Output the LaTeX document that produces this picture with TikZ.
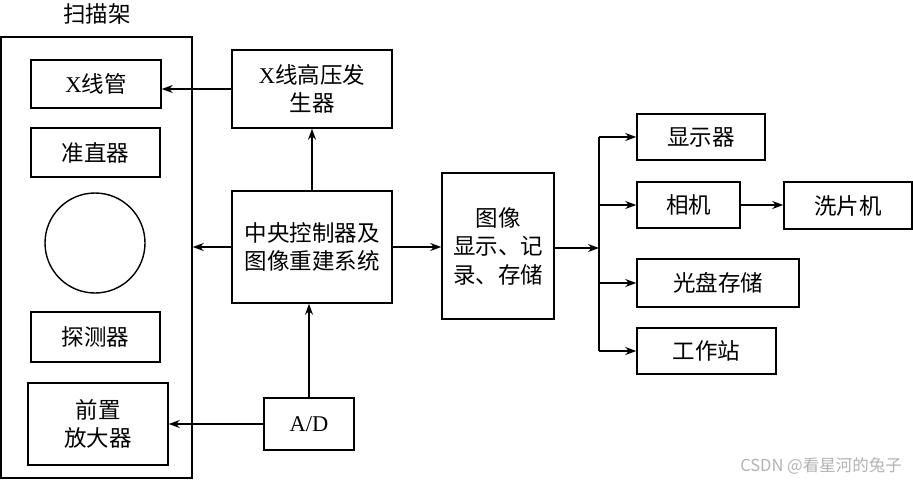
\documentclass[tikz,border=0pt]{standalone}
\usepackage{fontspec}
\setmainfont{Liberation Serif}
\newfontfamily\cjk{Noto Sans CJK SC}
\newfontfamily\wmfont{Noto Sans CJK SC}
\usetikzlibrary{arrows.meta,calc}
\newcommand\zh[1]{{\cjk #1}}
\begin{document}
\begin{tikzpicture}[x=1pt,y=-1pt,
  every node/.style={font=\fontsize{22.5}{28.5}\selectfont},
  blk/.style={draw, line width=1.5pt, inner sep=0pt, align=center},
  conn/.style={line width=1.4pt, -{Stealth[length=11pt,width=8pt]}},
  busline/.style={line width=1.4pt}]
\useasboundingbox (0,0) rectangle (913,480);

% scanner gantry and its parts
\node[blk, minimum width=191pt, minimum height=441pt] (frame) at (96.5,257.5) {};
\node (title) at (97,14) {\zh{扫描架}};
\node[blk, minimum width=130pt, minimum height=48pt] (xtube) at (96,84) {X\zh{线管}};
\node[blk, minimum width=129pt, minimum height=49pt] (colli) at (95.5,152.5) {\zh{准直器}};
\node[draw, line width=1.4pt, circle, inner sep=0pt, minimum size=100pt] (ring) at (95,243) {};
\node[blk, minimum width=129pt, minimum height=50pt] (det) at (95.5,337) {\zh{探测器}};
\node[blk, minimum width=140pt, minimum height=82pt] (preamp) at (98,424) {\zh{前置}\\\zh{放大器}};

% control and reconstruction
\node[blk, minimum width=90pt, minimum height=52pt] (ad) at (309,424) {A/D};
\node[blk, minimum width=160pt, minimum height=112pt] (cpu) at (312,247) {\zh{中央控制器及}\\\zh{图像重建系统}};
\node[blk, minimum width=160pt, minimum height=78pt] (hv) at (312,89) {X\zh{线高压发}\\\zh{生器}};
\node[blk, minimum width=112pt, minimum height=146pt] (img) at (498,246) {\zh{图像}\\\zh{显示、记}\\\zh{录、存储}};

% output devices
\coordinate (bus) at (599,248);
\coordinate (bustop) at (599,137);
\coordinate (busbot) at (599,351);
\node[blk, minimum width=128pt, minimum height=46pt] (disp) at (701,137) {\zh{显示器}};
\node[blk, minimum width=103pt, minimum height=46pt] (cam) at (688.5,205) {\zh{相机}};
\node[blk, minimum width=128pt, minimum height=47pt] (dev) at (848,205.5) {\zh{洗片机}};
\node[blk, minimum width=162pt, minimum height=48pt] (cd) at (718,283) {\zh{光盘存储}};
\node[blk, minimum width=139pt, minimum height=46pt] (ws) at (706.5,351) {\zh{工作站}};

% connectors
\draw[conn] (hv.west) -- (hv.west -| xtube.east);
\draw[conn] (cpu.north) -- (hv.south);
\draw[conn] (cpu.west) -- (cpu.west -| frame.east);
\draw[conn] (cpu.east) -- (cpu.east -| img.west);
\draw[conn] (ad.north) -- (ad.north |- cpu.south);
\draw[conn] (ad.west) -- (ad.west -| preamp.east);
\draw[conn] (img.east |- bus) -- (bus);
\draw[busline] (bustop) -- (busbot);
\draw[conn] (bustop) -- (disp.west);
\draw[conn] (bustop |- cam.west) -- (cam.west);
\draw[conn] (bustop |- cd.west) -- (cd.west);
\draw[conn] (busbot) -- (ws.west);
\draw[conn] (cam.east) -- (cam.east -| dev.west);

% watermark
\node[text=black!30, font=\wmfont\fontsize{16.5}{18}\selectfont] (wm) at (821,466) {CSDN @看星河的兔子};
\end{tikzpicture}
\end{document}
